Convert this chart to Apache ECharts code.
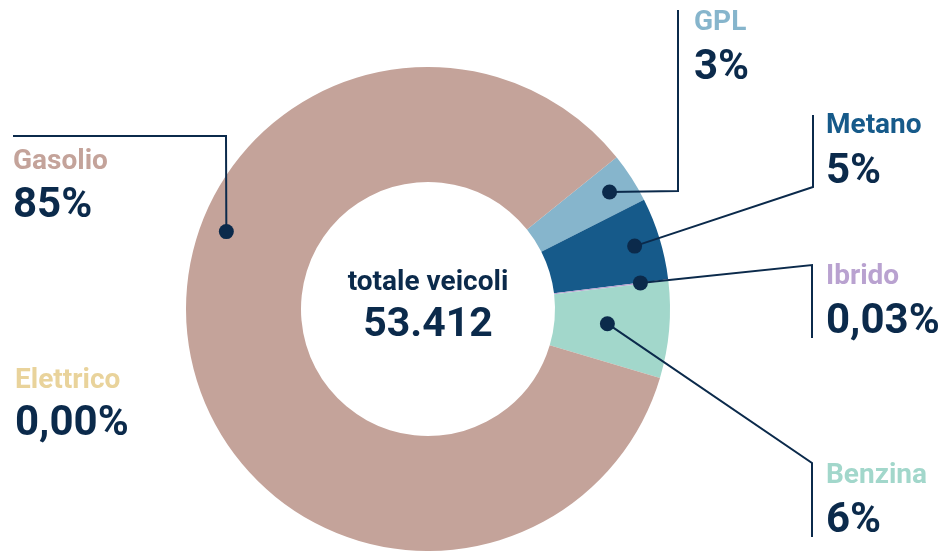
<!DOCTYPE html>
<html>
<head>
<meta charset="utf-8">
<script src="https://cdn.jsdelivr.net/npm/echarts@6/dist/echarts.min.js"></script>
<style>
  html, body { margin: 0; padding: 0; background: #ffffff; }
  #chart { width: 943px; height: 551px; }
</style>
</head>
<body>
<div id="chart"></div>
<script>
// dati (veicoli per alimentazione)
const categories = ['GPL', 'Metano', 'Ibrido', 'Benzina', 'Elettrico', 'Gasolio'];
const values = [1780, 2930, 16, 3450, 0, 45236];
const percentLabels = ['3%', '5%', '0,03%', '6%', '0,00%', '85%'];
const sliceColors = ['#86b5cc', '#165a8a', '#b9a2d0', '#a2d7cb', '#e9d39b', '#c4a39a'];

const navy = '#0b2a4b';
const cx = 428, cy = 309, rIn = 127, rOut = 242;
const startAngle = 38.8;
const fontFamily = 'Roboto, "Noto Sans", sans-serif';

// posizione etichette e linee guida
const labelLayout = {
  GPL:       { x: 694, nameY: 23,  valueY: 68,  dotR: 216, elbow: [[678, 191], [678, 10]] },
  Metano:    { x: 826, nameY: 126, valueY: 172, dotR: 216, elbow: [[813, 187], [813, 115]] },
  Ibrido:    { x: 826, nameY: 277, valueY: 322, dotR: 214, elbow: [[812, 265], [812, 338]] },
  Benzina:   { x: 826, nameY: 476, valueY: 521, dotR: 180, elbow: [[812, 463], [812, 537]] },
  Elettrico: { x: 15,  nameY: 381, valueY: 424 },
  Gasolio:   { x: 13,  nameY: 162, valueY: 206, dotR: 216, dotAngle: 159, elbow: [[226, 136], [13, 136]] }
};

const total = values.reduce((a, b) => a + b, 0);
const totalText = String(total).replace(/\B(?=(\d{3})+(?!\d))/g, '.');

const chart = echarts.init(document.getElementById('chart'), null, { renderer: 'canvas' });

const graphics = [];
let cum = 0;
categories.forEach((name, i) => {
  const mid = startAngle - (cum + values[i] / 2) / total * 360;
  cum += values[i];
  const lay = labelLayout[name];
  if (lay.elbow) {
    const a = (lay.dotAngle !== undefined ? lay.dotAngle : mid) * Math.PI / 180;
    const dot = [cx + lay.dotR * Math.cos(a), cy - lay.dotR * Math.sin(a)];
    graphics.push({
      type: 'polyline', silent: true, z: 10,
      shape: { points: [dot].concat(lay.elbow) },
      style: { stroke: navy, lineWidth: 2, fill: null }
    });
    graphics.push({
      type: 'circle', silent: true, z: 11,
      shape: { cx: dot[0], cy: dot[1], r: 7.5 },
      style: { fill: navy }
    });
  }
  graphics.push({
    type: 'text', silent: true, z: 12, x: lay.x, y: lay.nameY,
    style: { text: name, fill: sliceColors[i], font: 'bold 28px ' + fontFamily,
             textAlign: 'left', textVerticalAlign: 'middle' }
  });
  graphics.push({
    type: 'text', silent: true, z: 12, x: lay.x, y: lay.valueY,
    style: { text: percentLabels[i], fill: navy, font: 'bold 42px ' + fontFamily,
             textAlign: 'left', textVerticalAlign: 'middle' }
  });
});

// testo centrale
graphics.push({
  type: 'text', silent: true, z: 12, x: cx, y: 283,
  style: { text: 'totale veicoli', fill: navy, font: 'bold 28px ' + fontFamily,
           textAlign: 'center', textVerticalAlign: 'middle' }
});
graphics.push({
  type: 'text', silent: true, z: 12, x: cx, y: 326,
  style: { text: totalText, fill: navy, font: 'bold 41px ' + fontFamily,
           textAlign: 'center', textVerticalAlign: 'middle' }
});

const option = {
  animation: false,
  backgroundColor: '#ffffff',
  series: [
    {
      type: 'pie',
      center: [cx, cy],
      radius: [rIn, rOut],
      startAngle: startAngle,
      clockwise: true,
      minAngle: 0.4,
      silent: true,
      label: { show: false },
      labelLine: { show: false },
      itemStyle: { borderWidth: 0 },
      // le voci a zero non disegnano nessuna fetta
      data: categories
        .map((name, i) => ({ name: name, value: values[i], itemStyle: { color: sliceColors[i] } }))
        .filter(d => d.value > 0)
    }
  ],
  graphic: graphics
};

chart.setOption(option);
</script>
</body>
</html>
